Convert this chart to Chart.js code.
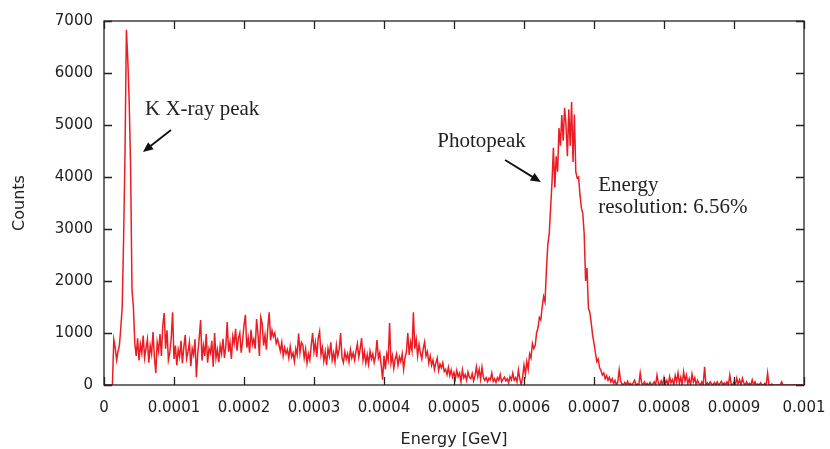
<!DOCTYPE html>
<html>
<head>
<meta charset="utf-8">
<script src="https://cdn.jsdelivr.net/npm/chart.js@4.4.1/dist/chart.umd.min.js"></script>
<style>
  html, body { margin: 0; padding: 0; background: #fff; }
  #wrap { width: 830px; height: 449px; }
</style>
</head>
<body>
<div id="wrap"><canvas id="spectrum" width="830" height="449"></canvas></div>
<script>
// histogram bins are 2 ueV wide, starting at 0
var binWidth = 0.000002;

// K X-ray region (bins 0-22)
var kxrayCounts = [0,0,0,0,0,0,0,870,720,480,640,760,1100,1500,2800,4450,6830,6250,5450,4200,1830,1500,800];

// Compton continuum and valley (bins 23-297)
var continuumCounts = [
  560,900,470,780,610,950,520,700,880,430,
  760,600,1020,540,230,820,650,980,560,1150,
  1385,700,1050,480,620,900,1400,500,760,380,
  680,540,850,420,720,960,510,640,820,360,
  700,580,880,150,620,900,1250,470,760,560,
  980,430,700,610,850,350,1000,520,680,440,
  760,600,890,520,740,1210,640,820,500,940,
  800,1080,660,900,1000,620,860,1150,1350,720,
  900,620,1060,780,880,700,1270,980,560,1300,
  1180,760,960,680,1100,1400,860,1050,930,1000,
  800,880,770,650,820,560,720,600,680,520,
  740,540,620,450,700,580,990,620,820,770,
  520,690,420,600,480,760,1000,640,820,540,
  900,1030,580,720,460,640,380,700,560,820,
  480,620,440,760,560,680,1000,520,430,640,
  500,600,440,680,520,620,480,650,790,540,
  700,900,480,640,420,580,400,650,500,600,
  430,560,865,520,620,380,100,560,300,600,
  480,1190,420,560,320,500,600,380,540,450,
  600,300,520,640,1000,580,820,660,1400,700,
  880,560,780,620,500,700,830,560,640,420,
  560,380,480,300,420,520,280,400,330,430,
  260,300,200,340,180,290,150,240,120,280,
  160,230,60,290,140,200,90,250,150,120,
  220,80,180,350,160,300,110,340,150,90,
  140,60,130,100,230,70,120,50,140,90,
  200,60,110,150,80,120,40,160,100,230,
  90,140,60,290,120
];

// photopeak (bins 298-360)
var photopeakCounts = [
  0,150,380,200,450,300,600,520,800,700,
  760,1000,1100,1300,1250,1500,1700,1600,2200,2700,
  2900,3400,3900,4560,3800,4400,4100,4940,4600,5190,
  4700,5330,5000,4400,5300,4600,5440,4290,5200,4100,
  3980,4000,3650,3400,3300,2900,2000,2250,1480,1400,
  1200,960,800,620,450,500,330,280,190,230,
  120,180,90
];

// high energy tail (bins 361-499)
var tailCounts = [
  150,60,120,30,90,0,60,290,80,20,
  0,50,0,70,0,30,0,40,90,0,
  20,0,230,40,0,60,0,30,0,50,
  0,20,60,0,190,30,0,80,0,140,
  20,90,0,160,40,100,0,180,60,230,
  30,150,0,250,80,190,20,120,0,210,
  60,140,0,90,30,0,60,0,350,0,
  40,0,60,20,0,50,0,60,0,30,
  70,0,40,0,60,0,190,20,0,60,
  0,130,20,100,0,130,40,0,60,0,
  30,0,100,0,60,0,20,0,40,0,
  0,30,0,230,0,0,20,0,0,0,
  0,0,0,60,0,0,0,0,0,0,
  0,0,0,0,0,0,0,0,0
];

var xTickLabels = ['0','0.0001','0.0002','0.0003','0.0004','0.0005','0.0006','0.0007','0.0008','0.0009','0.001'];
var yTickLabels = ['0','1000','2000','3000','4000','5000','6000','7000'];

var counts = kxrayCounts.concat(continuumCounts, photopeakCounts, tailCounts);
var points = counts.map(function(c, i) {
  return { x: i * binWidth, y: c };
});

// frame with inward ticks on all four sides (gnuplot look)
var framePlugin = {
  id: 'frame',
  afterDraw: function(chart) {
    var ctx = chart.ctx, a = chart.chartArea;
    var xs = chart.scales.x, ys = chart.scales.y;
    var len = 8;
    ctx.save();
    ctx.strokeStyle = '#222';
    ctx.lineWidth = 1.3;
    ctx.strokeRect(a.left, a.top, a.right - a.left, a.bottom - a.top);
    ctx.beginPath();
    xs.ticks.forEach(function(t) {
      var px = Math.round(xs.getPixelForValue(t.value)) + 0.5;
      ctx.moveTo(px, a.bottom); ctx.lineTo(px, a.bottom - len);
      ctx.moveTo(px, a.top); ctx.lineTo(px, a.top + len);
    });
    ys.ticks.forEach(function(t) {
      var py = Math.round(ys.getPixelForValue(t.value)) + 0.5;
      ctx.moveTo(a.left, py); ctx.lineTo(a.left + len, py);
      ctx.moveTo(a.right, py); ctx.lineTo(a.right - len, py);
    });
    ctx.stroke();
    ctx.restore();
  }
};

// text labels and arrows, placed in data coordinates
var notes = [
  { text: 'K X-ray peak', x: 0.0000586, y: 5290 },
  { text: 'Photopeak', x: 0.000476, y: 4692 },
  { text: 'Energy', x: 0.000706, y: 3846 },
  { text: 'resolution: 6.56%', x: 0.000706, y: 3423 }
];
var arrows = [
  { from: [0.0000957, 4904], to: [0.0000557, 4481] },
  { from: [0.000573, 4327], to: [0.000624, 3904] }
];

var notesPlugin = {
  id: 'notes',
  afterDraw: function(chart) {
    var ctx = chart.ctx;
    var xs = chart.scales.x, ys = chart.scales.y;
    ctx.save();
    ctx.fillStyle = '#222';
    ctx.font = '21px "Liberation Serif", "DejaVu Serif", serif';
    ctx.textBaseline = 'middle';
    ctx.textAlign = 'left';
    notes.forEach(function(n) {
      ctx.fillText(n.text, xs.getPixelForValue(n.x), ys.getPixelForValue(n.y));
    });
    ctx.strokeStyle = '#111';
    ctx.lineWidth = 1.8;
    arrows.forEach(function(ar) {
      var x1 = xs.getPixelForValue(ar.from[0]), y1 = ys.getPixelForValue(ar.from[1]);
      var x2 = xs.getPixelForValue(ar.to[0]), y2 = ys.getPixelForValue(ar.to[1]);
      var ang = Math.atan2(y2 - y1, x2 - x1);
      var hl = 11, hw = 0.42;
      ctx.beginPath();
      ctx.moveTo(x1, y1);
      ctx.lineTo(x2 - Math.cos(ang) * hl * 0.8, y2 - Math.sin(ang) * hl * 0.8);
      ctx.stroke();
      ctx.beginPath();
      ctx.moveTo(x2, y2);
      ctx.lineTo(x2 - hl * Math.cos(ang - hw), y2 - hl * Math.sin(ang - hw));
      ctx.lineTo(x2 - hl * Math.cos(ang + hw), y2 - hl * Math.sin(ang + hw));
      ctx.closePath();
      ctx.fillStyle = '#111';
      ctx.fill();
    });
    ctx.restore();
  }
};

var tickFont = { family: '"DejaVu Sans", sans-serif', size: 15 };
var titleFont = { family: '"DejaVu Sans", sans-serif', size: 16 };

var ctx = document.getElementById('spectrum').getContext('2d');
var spectrumChart = new Chart(ctx, {
  type: 'line',
  data: {
    datasets: [{
      label: 'Counts',
      data: points,
      borderColor: '#ec1c24',
      borderWidth: 1.5,
      pointRadius: 0,
      tension: 0,
      fill: false
    }]
  },
  options: {
    responsive: false,
    animation: false,
    layout: { padding: { top: 21, right: 26, left: 0, bottom: 0 } },
    plugins: {
      legend: { display: false },
      tooltip: { enabled: false }
    },
    scales: {
      x: {
        type: 'linear',
        min: 0,
        max: 0.001,
        grid: { display: false, drawTicks: false },
        border: { display: false },
        ticks: {
          stepSize: 0.0001,
          padding: 14,
          color: '#222',
          font: tickFont,
          maxRotation: 0,
          autoSkip: false,
          callback: function(value, index) { return xTickLabels[index]; }
        },
        title: {
          display: true,
          text: 'Energy [GeV]',
          color: '#222',
          font: titleFont,
          padding: { top: 0, bottom: 0 }
        },
        afterFit: function(scale) {
          scale.height = 64;
          scale.paddingLeft = 0;
          scale.paddingRight = 0;
        }
      },
      y: {
        min: 0,
        max: 7000,
        grid: { display: false, drawTicks: false },
        border: { display: false },
        ticks: {
          stepSize: 1000,
          padding: 11,
          color: '#222',
          font: tickFont,
          callback: function(value, index) { return yTickLabels[index]; }
        },
        title: {
          display: true,
          text: 'Counts',
          color: '#222',
          font: titleFont,
          padding: { top: 10, bottom: 0 }
        },
        afterFit: function(scale) {
          scale.width = 104;
          scale.paddingTop = 0;
          scale.paddingBottom = 0;
        }
      }
    }
  },
  plugins: [framePlugin, notesPlugin]
});
</script>
</body>
</html>
